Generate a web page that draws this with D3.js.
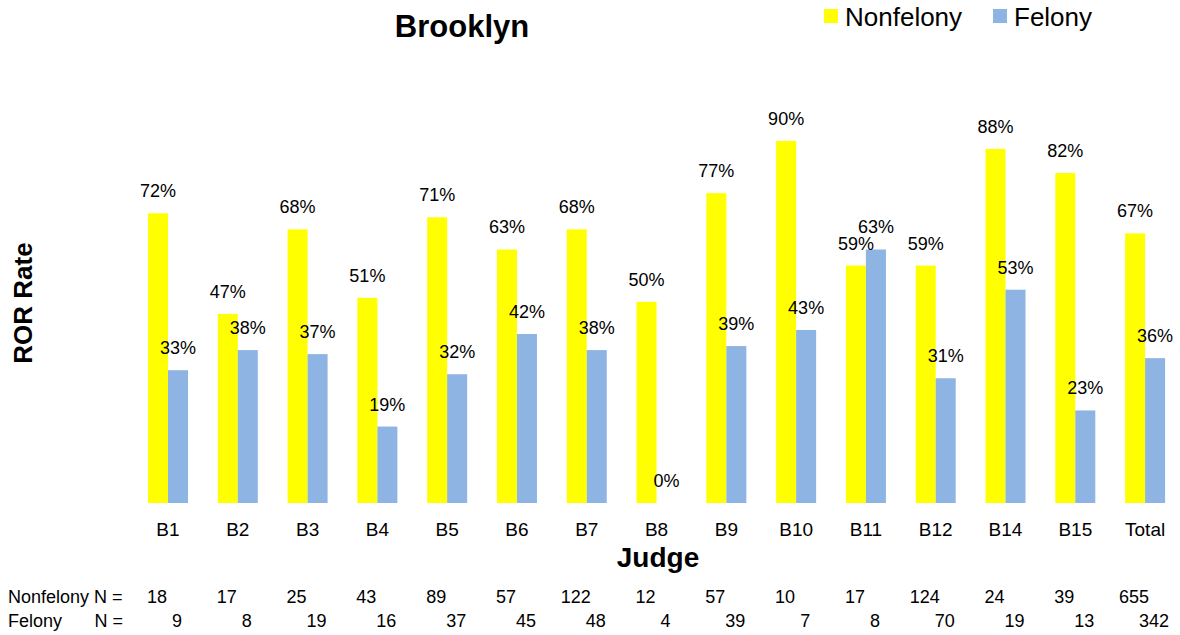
<!DOCTYPE html>
<html>
<head>
<meta charset="utf-8">
<script src="https://cdn.jsdelivr.net/npm/d3@7"></script>
<style>
  html, body { margin: 0; padding: 0; background: #fff; }
  svg { display: block; font-family: "Liberation Sans", Arial, sans-serif; }
  svg text { font-family: "Liberation Sans", Arial, sans-serif; }
</style>
</head>
<body>
<svg id="chart" width="1180" height="635"></svg>
<script>
const categories = ["B1","B2","B3","B4","B5","B6","B7","B8","B9","B10","B11","B12","B14","B15","Total"];
const series = ["Nonfelony","Felony"];
const nonfelonyRate = [72,47,68,51,71,63,68,50,77,90,59,59,88,82,67];
const felonyRate    = [33,38,37,19,32,42,38,0,39,43,63,31,53,23,36];
const nonfelonyN = [18,17,25,43,89,57,122,12,57,10,17,124,24,39,655];
const felonyN    = [9,8,19,16,37,45,48,4,39,7,8,70,19,13,342];
const colors = {"Nonfelony": "#FFFF00", "Felony": "#8EB4E3"};

const svg = d3.select("#chart");
const baseY = 503, topY = 100.6;

const x0 = d3.scaleBand().domain(categories).range([133.1, 1180])
  .paddingInner(0.4269).paddingOuter(0.2135);
const x1 = d3.scaleBand().domain(series).range([0, x0.bandwidth()]);
const y = d3.scaleLinear().domain([0, 100]).range([baseY, topY]);

const rows = categories.map((c, i) => ({cat: c, vals: [
  {s: "Nonfelony", v: nonfelonyRate[i]}, {s: "Felony", v: felonyRate[i]}]}));

const g = svg.append("g");
const grp = g.selectAll("g.cat").data(rows).join("g")
  .attr("class", "cat")
  .attr("transform", d => `translate(${x0(d.cat)},0)`);

grp.selectAll("rect").data(d => d.vals).join("rect")
  .attr("x", d => x1(d.s))
  .attr("y", d => y(d.v))
  .attr("width", x1.bandwidth())
  .attr("height", d => baseY - y(d.v))
  .attr("fill", d => colors[d.s]);

grp.selectAll("text.val").data(d => d.vals).join("text")
  .attr("class", "val")
  .attr("x", d => x1(d.s) + x1.bandwidth() / 2)
  .attr("y", d => y(d.v) - 16)
  .attr("text-anchor", "middle")
  .attr("font-size", 18)
  .attr("fill", "#000")
  .text(d => d.v + "%");

// x axis tick labels
const ax = svg.append("g").attr("transform", `translate(0,${baseY})`)
  .call(d3.axisBottom(x0).tickSize(0));
ax.attr("font-size", 19).attr("font-family", null);
ax.select(".domain").remove();
ax.selectAll("text")
  .attr("y", 33).attr("dy", 0)
  .attr("font-size", 19)
  .attr("fill", "#000");

// Title
svg.append("text").attr("x", 462).attr("y", 37)
  .attr("text-anchor", "middle").attr("font-size", 31).attr("font-weight", "bold")
  .text("Brooklyn");

// Axis titles
svg.append("text").attr("x", 658).attr("y", 567)
  .attr("text-anchor", "middle").attr("font-size", 28).attr("font-weight", "bold")
  .text("Judge");
svg.append("text")
  .attr("transform", "translate(32,303) rotate(-90)")
  .attr("text-anchor", "middle").attr("font-size", 26).attr("font-weight", "bold")
  .text("ROR Rate");

// Legend
const legend = [{s: "Nonfelony", x: 824}, {s: "Felony", x: 993}];
const lg = svg.selectAll("g.leg").data(legend).join("g").attr("class", "leg")
  .attr("transform", d => `translate(${d.x},0)`);
lg.append("rect").attr("x", 0).attr("y", 9).attr("width", 14).attr("height", 14)
  .attr("fill", d => colors[d.s]);
lg.append("text").attr("x", 21).attr("y", 26).attr("font-size", 26)
  .text(d => d.s);

// N rows
const nRow1 = 603, nRow2 = 627;
svg.append("text").attr("x", 8).attr("y", nRow1).attr("font-size", 18).text("Nonfelony N =");
svg.append("text").attr("x", 8).attr("y", nRow2).attr("font-size", 18).text("Felony");
svg.append("text").attr("x", 123).attr("y", nRow2).attr("text-anchor", "end").attr("font-size", 18).text("N =");

svg.selectAll("text.n1").data(categories).join("text").attr("class", "n1")
  .attr("x", d => x0(d) + x0.bandwidth() / 2 - 11)
  .attr("y", nRow1).attr("text-anchor", "middle").attr("font-size", 18)
  .text((d, i) => nonfelonyN[i]);
svg.selectAll("text.n2").data(categories).join("text").attr("class", "n2")
  .attr("x", d => x0(d) + x0.bandwidth() / 2 + 9)
  .attr("y", nRow2).attr("text-anchor", "middle").attr("font-size", 18)
  .text((d, i) => felonyN[i]);
</script>
</body>
</html>
